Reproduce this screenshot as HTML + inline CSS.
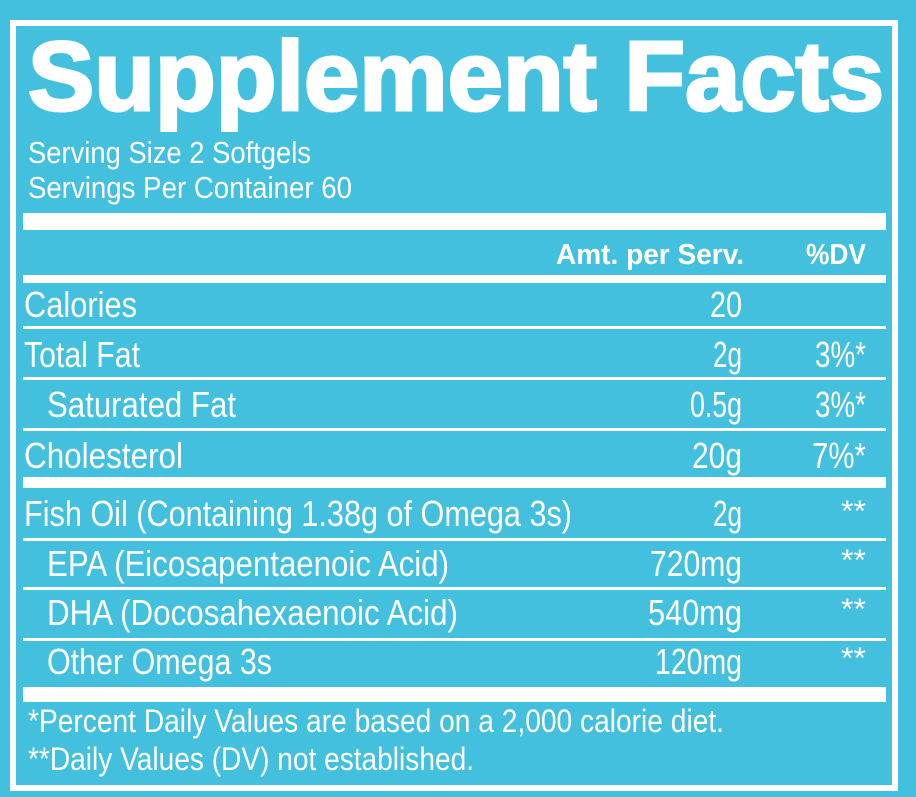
<!DOCTYPE html>
<html><head><style>
html,body{margin:0;padding:0;background:#44c0df;}
svg{display:block;}
text{font-family:"Liberation Sans",sans-serif;fill:#fff;}
</style></head><body>
<svg width="916" height="797" viewBox="0 0 916 797">
<rect width="916" height="797" fill="#44c0df"/>
<rect x="13" y="23" width="882" height="765" fill="none" stroke="#fff" stroke-width="6"/>
<text x="28" y="110" font-size="98" font-weight="bold" stroke="#fff" stroke-width="3" textLength="856" lengthAdjust="spacingAndGlyphs">Supplement Facts</text>
<g font-size="31">
<text x="28" y="163" textLength="283" lengthAdjust="spacingAndGlyphs">Serving Size 2 Softgels</text>
<text x="28" y="198" textLength="324" lengthAdjust="spacingAndGlyphs">Servings Per Container 60</text>
</g>
<rect x="23" y="213" width="863" height="17" fill="#fff"/>
<g font-size="29" font-weight="bold">
<text x="556" y="264" textLength="188" lengthAdjust="spacingAndGlyphs">Amt. per Serv.</text>
<text x="806" y="264" textLength="60" lengthAdjust="spacingAndGlyphs">%DV</text>
</g>
<rect x="23" y="275" width="863" height="8" fill="#fff"/>
<g fill="#fff">
<rect x="23" y="326" width="863" height="3"/>
<rect x="23" y="377" width="863" height="3"/>
<rect x="23" y="428" width="863" height="3"/>
<rect x="23" y="477" width="863" height="11"/>
<rect x="23" y="538" width="863" height="3"/>
<rect x="23" y="587" width="863" height="3"/>
<rect x="23" y="638" width="863" height="3"/>
<rect x="23" y="687" width="863" height="15"/>
</g>
<g font-size="36">
<text x="24" y="317" textLength="113" lengthAdjust="spacingAndGlyphs">Calories</text>
<text x="24" y="367" textLength="116" lengthAdjust="spacingAndGlyphs">Total Fat</text>
<text x="47" y="417" textLength="189" lengthAdjust="spacingAndGlyphs">Saturated Fat</text>
<text x="24" y="468" textLength="159" lengthAdjust="spacingAndGlyphs">Cholesterol</text>
<text x="24" y="526" textLength="548" lengthAdjust="spacingAndGlyphs">Fish Oil (Containing 1.38g of Omega 3s)</text>
<text x="47" y="576" textLength="402" lengthAdjust="spacingAndGlyphs">EPA (Eicosapentaenoic Acid)</text>
<text x="47" y="625" textLength="411" lengthAdjust="spacingAndGlyphs">DHA (Docosahexaenoic Acid)</text>
<text x="47" y="674" textLength="225" lengthAdjust="spacingAndGlyphs">Other Omega 3s</text>
<text x="710" y="317" textLength="32" lengthAdjust="spacingAndGlyphs">20</text>
<text x="713" y="367" textLength="29" lengthAdjust="spacingAndGlyphs">2g</text>
<text x="690" y="417" textLength="52" lengthAdjust="spacingAndGlyphs">0.5g</text>
<text x="692" y="468" textLength="50" lengthAdjust="spacingAndGlyphs">20g</text>
<text x="713" y="526" textLength="29" lengthAdjust="spacingAndGlyphs">2g</text>
<text x="650" y="576" textLength="92" lengthAdjust="spacingAndGlyphs">720mg</text>
<text x="648" y="625" textLength="94" lengthAdjust="spacingAndGlyphs">540mg</text>
<text x="655" y="674" textLength="87" lengthAdjust="spacingAndGlyphs">120mg</text>
<text x="815" y="367" textLength="51" lengthAdjust="spacingAndGlyphs">3%*</text>
<text x="815" y="417" textLength="51" lengthAdjust="spacingAndGlyphs">3%*</text>
<text x="812" y="468" textLength="54" lengthAdjust="spacingAndGlyphs">7%*</text>
</g>
<g font-size="30">
<text x="841" y="521" textLength="25" lengthAdjust="spacingAndGlyphs">**</text>
<text x="841" y="570" textLength="25" lengthAdjust="spacingAndGlyphs">**</text>
<text x="841" y="619" textLength="25" lengthAdjust="spacingAndGlyphs">**</text>
<text x="841" y="668" textLength="25" lengthAdjust="spacingAndGlyphs">**</text>
</g>
<g font-size="32">
<text x="28" y="732" textLength="696" lengthAdjust="spacingAndGlyphs">*Percent Daily Values are based on a 2,000 calorie diet.</text>
<text x="28" y="770" textLength="446" lengthAdjust="spacingAndGlyphs">**Daily Values (DV) not established.</text>
</g>
</svg>
</body></html>
